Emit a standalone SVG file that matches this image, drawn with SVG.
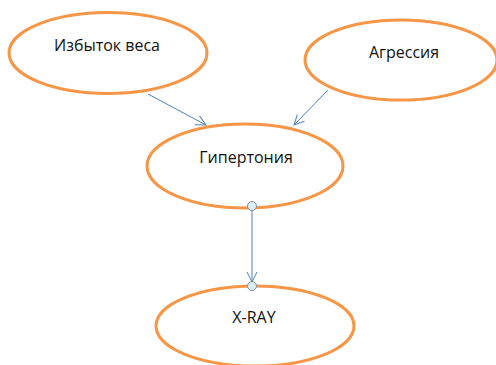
<svg xmlns="http://www.w3.org/2000/svg" width="496" height="365" viewBox="0 0 496 365">
<defs>
<style>
.node{fill:#ffffff;stroke:#F79646;stroke-width:3}
.lbl{font-family:"Open Sans","Liberation Sans",sans-serif;font-size:16px;fill:#111111;text-anchor:middle}
.edge{stroke:#4F81BD;stroke-width:1;fill:none}
.pt{fill:#DAEEF3;stroke:#7F8F99;stroke-width:1}
</style>
<marker id="arr" viewBox="0 0 12 12" refX="11" refY="6" markerWidth="12" markerHeight="12" markerUnits="userSpaceOnUse" orient="auto">
<path d="M1,1 L11,6 L1,11" fill="none" stroke="#4F81BD" stroke-width="1"/>
</marker>
</defs>
<rect width="496" height="365" fill="#ffffff"/>
<g id="connectors">
<line class="edge" x1="148" y1="94" x2="206" y2="125" marker-end="url(#arr)"/>
<line class="edge" x1="328" y1="90" x2="294" y2="125" marker-end="url(#arr)"/>
<line class="edge" x1="252" y1="206" x2="252" y2="282" marker-end="url(#arr)"/>
</g>
<g id="n1">
<ellipse class="node" cx="108" cy="53" rx="99" ry="40.5"/>
<text class="lbl" x="107" y="51">Избыток веса</text>
</g>
<g id="n2">
<ellipse class="node" cx="401" cy="60" rx="96" ry="40"/>
<text class="lbl" x="404" y="58">Агрессия</text>
</g>
<g id="n3">
<ellipse class="node" cx="245" cy="166" rx="98" ry="42"/>
<text class="lbl" x="246" y="163">Гипертония</text>
</g>
<g id="n4">
<ellipse class="node" cx="255" cy="326" rx="99" ry="40"/>
<text class="lbl" x="254" y="323">X-RAY</text>
</g>
<g id="handles">
<circle class="pt" cx="252" cy="206" r="4.5"/>
<circle class="pt" cx="252" cy="286" r="4.5"/>
</g>
</svg>
